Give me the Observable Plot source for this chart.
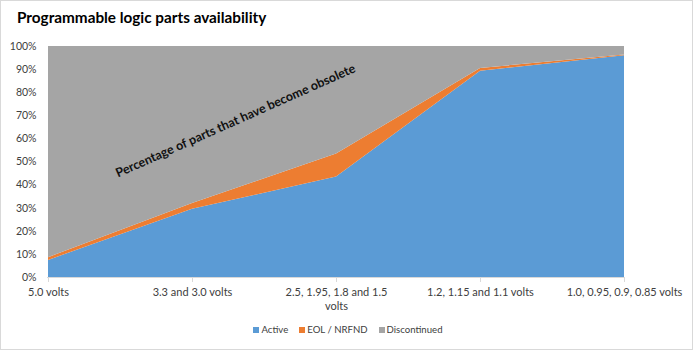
<!DOCTYPE html>
<html>
<head>
<meta charset="utf-8">
<script src="https://cdn.jsdelivr.net/npm/d3@7"></script>
<script src="https://cdn.jsdelivr.net/npm/@observablehq/plot@0.6"></script>
<style>
  html, body { margin: 0; padding: 0; background: #fff; }
  #chart { position: relative; width: 696px; height: 352px; overflow: hidden; font-family: Lato, "Open Sans", sans-serif; }
  #border { position: absolute; left: 0; top: 0; width: 691px; height: 348px; border: 1px solid #d9d9d9; }
  #title { position: absolute; left: 17px; top: 8px; font-size: 15.3px; font-weight: bold; color: #000; white-space: nowrap; }
  #plot { position: absolute; left: 0; top: 30px; }
  #legend { position: absolute; left: 0; width: 696px; top: 324px; display: flex; justify-content: center; gap: 11px; font-size: 9.6px; color: #404040; }
  #legend .item { display: flex; align-items: center; gap: 2px; }
  #legend .sw { width: 6px; height: 6px; display: inline-block; }
</style>
</head>
<body>
<div id="chart">
  <div id="border"></div>
  <div id="title">Programmable logic parts availability</div>
  <div id="plot"></div>
  <div id="legend"></div>
</div>
<script>
const categories = [
  "5.0 volts",
  "3.3 and 3.0 volts",
  "2.5, 1.95, 1.8 and 1.5 volts",
  "1.2, 1.15 and 1.1 volts",
  "1.0, 0.95, 0.9, 0.85 volts"
];
const tickLabels = [
  "5.0 volts",
  "3.3 and 3.0 volts",
  "2.5, 1.95, 1.8 and 1.5\nvolts",
  "1.2, 1.15 and 1.1 volts",
  "1.0, 0.95, 0.9, 0.85 volts"
];
const seriesNames = ["Active", "EOL / NRFND", "Discontinued"];
const seriesColors = ["#5B9BD5", "#ED7D31", "#A5A5A5"];
const active = [7.4, 29.5, 43.5, 89.3, 96.0];
const eol = [1.2, 2.5, 10.0, 1.2, 0.3];
const discontinued = [91.4, 68.0, 46.5, 9.5, 3.7];
const annotationText = "Percentage of parts that have become obsolete";
const annotation = [{x: "3.3 and 3.0 volts", y: 66.5}];

const data = [];
categories.forEach((c, i) => {
  data.push({cat: c, series: "Active", value: active[i]});
  data.push({cat: c, series: "EOL / NRFND", value: eol[i]});
  data.push({cat: c, series: "Discontinued", value: discontinued[i]});
});

const plot = Plot.plot({
  width: 696,
  height: 292,
  marginTop: 16,
  marginBottom: 45,
  marginLeft: 47,
  marginRight: 72,
  style: {fontFamily: "Lato, 'Open Sans', sans-serif", fontSize: "10.5px", color: "#404040", background: "transparent"},
  x: {type: "point", domain: categories, padding: 0, label: null},
  y: {domain: [0, 100], label: null},
  color: {domain: seriesNames, range: seriesColors},
  marks: [
    Plot.areaY(data, {x: "cat", y: "value", fill: "series", order: seriesNames, curve: "linear"}),
    Plot.ruleY([0], {stroke: "#d9d9d9"}),
    Plot.axisX({tickSize: 5, tickPadding: 4, stroke: "#d9d9d9", fill: "#404040", fontSize: 11, tickFormat: (d) => tickLabels[categories.indexOf(d)], lineHeight: 1.25}),
    Plot.axisY({ticks: d3.range(0, 101, 10), tickSize: 0, tickPadding: 11, tickFormat: d => d + "%", fill: "#404040"}),
    Plot.text(annotation, {x: "x", y: "y", dx: 43, dy: -3, text: () => annotationText, rotate: -24, fontWeight: "bold", fontSize: 12.5, fill: "#111", fontFamily: "Lato, 'Open Sans', sans-serif"})
  ]
});
document.getElementById("plot").appendChild(plot);

const legend = document.getElementById("legend");
seriesNames.forEach((n, i) => {
  const item = document.createElement("div");
  item.className = "item";
  const sw = document.createElement("span");
  sw.className = "sw";
  sw.style.background = seriesColors[i];
  const t = document.createElement("span");
  t.textContent = n;
  item.appendChild(sw);
  item.appendChild(t);
  legend.appendChild(item);
});
</script>
</body>
</html>
